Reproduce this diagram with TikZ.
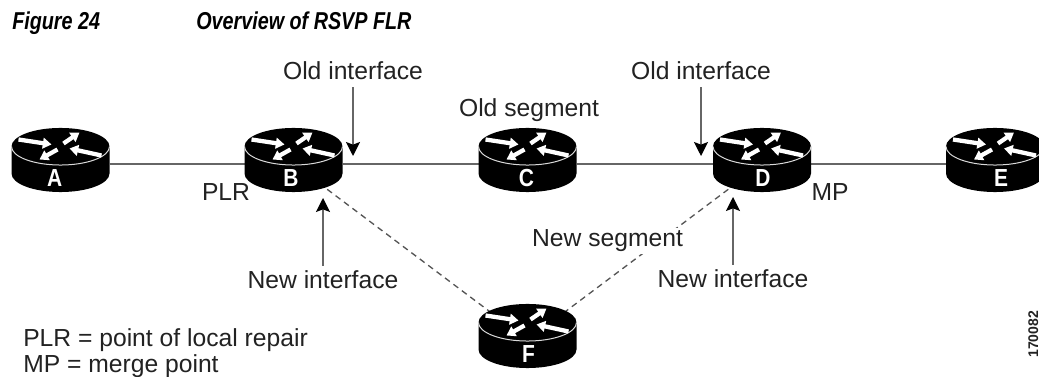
\documentclass[tikz,border=0pt]{standalone}
\usepackage{fontspec}
\setmainfont{Liberation Sans}
\newfontfamily\titlefont[FakeStretch=0.81]{Liberation Sans}
\newfontfamily\letterfont[FakeStretch=0.85]{Liberation Sans}
\usetikzlibrary{arrows.meta,backgrounds}
\definecolor{inkc}{HTML}{222222}
\definecolor{linec}{HTML}{666666}
\definecolor{dashc}{HTML}{555555}
\tikzset{
  routerbox/.style={minimum width=73.5pt,minimum height=54pt,inner sep=0pt,outer sep=0pt},
  routerletter/.style={text=white,anchor=base,inner sep=0pt,font=\letterfont\bfseries\fontsize{18.5}{18}\selectfont},
  label/.style={anchor=base,inner sep=0pt,text=inkc,font=\fontsize{18.5}{20}\selectfont},
  titletext/.style={anchor=base west,inner sep=0pt,text=black,font=\titlefont\bfseries\itshape\fontsize{18.3}{20}\selectfont},
  link/.style={draw=linec,line width=1.1pt},
  newlink/.style={draw=dashc,line width=1pt,dash pattern=on 4.5pt off 3.4pt},
  pointer/.style={draw=linec,line width=1.15pt,-{Stealth[width=10.5pt,length=10.5pt,inset=2pt,fill=black,color=black]}},
  flowarrow/.style={draw=white,line width=3.2pt,-{Triangle[width=8pt,length=6.5pt,fill=white,color=white]}},
}
% name, centre x, line y, letter, letter x
\newcommand{\routerdev}[5]{%
  \node[routerbox] (#1) at (#2,#3) {};
  \begin{scope}[shift={(#2,#3-17.5)}]
    \fill[black] (-49,0) -- (-49,27) arc[start angle=180,end angle=360,x radius=36.75pt,y radius=13.9pt] -- (49,0)
       arc[start angle=0,end angle=180,x radius=36.75pt,y radius=13.9pt] -- cycle;
    \draw[draw=black!15,line width=0.75pt] (-49,0) arc[start angle=180,end angle=360,x radius=36.75pt,y radius=13.9pt];
    \draw[flowarrow] (-42,-7) -- (-9,-2);
    \draw[flowarrow] (41,9) -- (9,2);
    \draw[flowarrow] (3,-3) -- (19,-14);
    \draw[flowarrow] (-3,3) -- (-21,13);
  \end{scope}
  \node[routerletter] (#1l) at (#5,#3+23) {#4};
}
\begin{document}
\begin{tikzpicture}[x=0.75pt,y=-0.75pt]
\useasboundingbox (0,0) rectangle (1039,377);

\routerdev{a}{60.5}{164}{A}{54.6}
\routerdev{b}{293.5}{164}{B}{291}
\routerdev{c}{527.5}{164}{C}{526.5}
\routerdev{d}{762}{164}{D}{763}
\routerdev{e}{995}{164}{E}{1001}
\routerdev{f}{527.5}{340}{F}{528.5}

\begin{pgfonlayer}{background}
  \fill[white] (0,0) rectangle (1039,377);
  \draw[link] (a) -- (b);
  \draw[link] (b) -- (c);
  \draw[link] (c) -- (d);
  \draw[link] (d) -- (e);
  \draw[newlink] (b.center) -- (f.center);
  \draw[newlink] (d.center) -- (f.center);
\end{pgfonlayer}

\node[titletext] (fig) at (12,30) {Figure 24};
\node[titletext] (ttl) at (196,30) {Overview of RSVP FLR};

\node[label] (old1) at (353,80) {Old interface};
\node[label] (old2) at (701,80) {Old interface};
\node[label] (oseg) at (529,117) {Old segment};
\node[label] (plr) at (226,201) {PLR};
\node[label] (mp) at (830,201) {MP};
\node[label] (new1) at (323,289) {New interface};
\node[label] (new2) at (733,288) {New interface};
\node[label,fill=white,inner sep=1.5pt] (nseg) at (607.5,247) {New segment};
\node[label,anchor=base west] (leg1) at (23,347) {PLR = point of local repair};
\node[label,anchor=base west] (leg2) at (23,373) {MP = merge point};
\node[anchor=base west,inner sep=0pt,rotate=90,text=inkc,font=\bfseries\fontsize{10.5}{12}\selectfont] (num) at (1038,358) {170082};

\coordinate (t1) at (353,156);
\coordinate (t2) at (701,156);
\coordinate (t3) at (323,198);
\coordinate (t4) at (733,197);
\draw[pointer,shorten <=5pt] (old1.south) -- (t1);
\draw[pointer,shorten <=5pt] (old2.south) -- (t2);
\draw[pointer,shorten <=4pt] (new1.north) -- (t3);
\draw[pointer,shorten <=4pt] (new2.north) -- (t4);
\end{tikzpicture}
\end{document}
